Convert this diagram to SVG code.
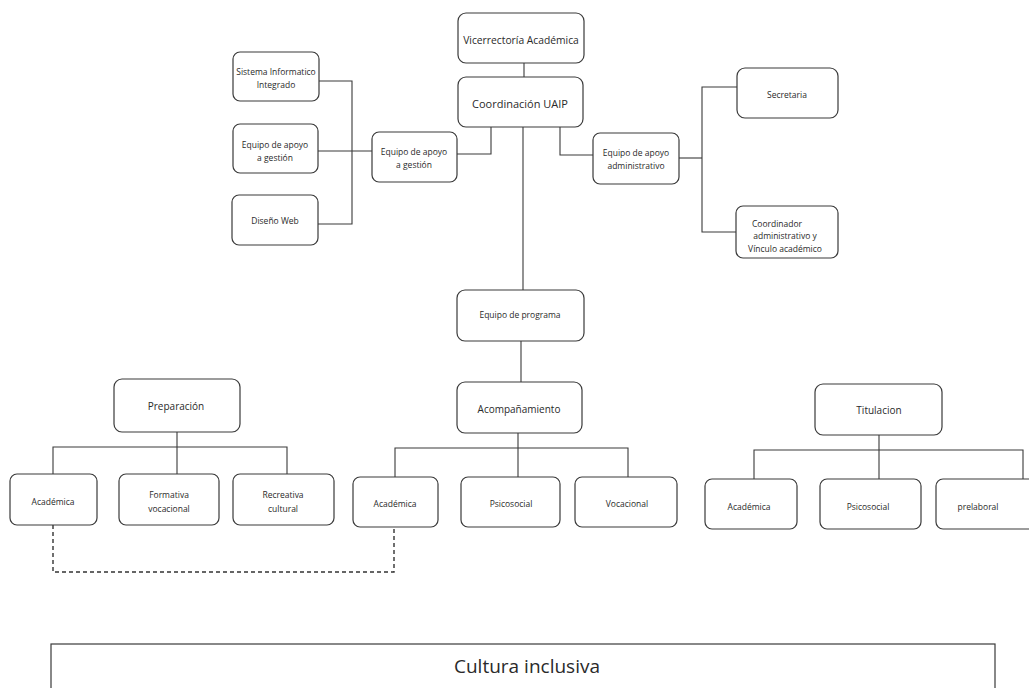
<svg xmlns="http://www.w3.org/2000/svg" width="1029" height="688" viewBox="0 0 1029 688">
<style>
.b{fill:#fff;stroke:#3a3a3a;stroke-width:1.2}
.t{font-family:"Open Sans","Noto Sans",sans-serif;fill:#2a2a2a;text-anchor:middle;dominant-baseline:central}
.s{font-size:8.5px}
.m{font-size:10px}
.l{font-size:11px}
.c{fill:none;stroke:#3a3a3a;stroke-width:1.1}
.d{fill:none;stroke:#333;stroke-width:1.4;stroke-dasharray:4 3}
</style>
<rect width="1029" height="688" fill="#fff"/>
<g id="connectors">
<path class="c" d="M524 63V77"/>
<path class="c" d="M491 127V154H457"/>
<path class="c" d="M560 127V155H593"/>
<path class="c" d="M523 127V290"/>
<path class="c" d="M319 81H352V224H318"/>
<path class="c" d="M318 151H372"/>
<path class="c" d="M679 158H702"/>
<path class="c" d="M737 87H702V232H736"/>
<path class="c" d="M521 341V382"/>
<path class="c" d="M518 433V448M395 477V448H628V477M518 448V477"/>
<path class="c" d="M177 432V447M53 474V447H287V474M177 447V474"/>
<path class="c" d="M879 435V450M754 479V450H1023V479M879 450V479"/>
<path class="d" d="M53 525V572H394V527"/>
</g>
<g id="vicerrectoria"><rect class="b" x="458" y="13" width="126" height="50" rx="8"/><text class="t" x="521" y="40" style="font-size:10.3px">Vicerrectoría Académica</text></g>
<g id="coordinacion"><rect class="b" x="458" y="77" width="125" height="50" rx="8"/><text class="t l" x="520" y="103">Coordinación UAIP</text></g>
<g id="sistema"><rect class="b" x="233" y="52" width="86" height="49" rx="7"/><text class="t s" x="276" y="71">Sistema Informatico</text><text class="t s" x="276" y="84">Integrado</text></g>
<g id="apoyo-gestion-izq"><rect class="b" x="233" y="124" width="85" height="49" rx="7"/><text class="t s" x="275" y="144">Equipo de apoyo</text><text class="t s" x="275" y="157">a gestión</text></g>
<g id="diseno-web"><rect class="b" x="232" y="195" width="86" height="50" rx="7"/><text class="t s" x="275" y="220">Diseño Web</text></g>
<g id="apoyo-gestion"><rect class="b" x="372" y="132" width="85" height="50" rx="7"/><text class="t s" x="414" y="151">Equipo de apoyo</text><text class="t s" x="414" y="164">a gestión</text></g>
<g id="apoyo-administrativo"><rect class="b" x="593" y="133" width="86" height="51" rx="7"/><text class="t s" x="636" y="152">Equipo de apoyo</text><text class="t s" x="636" y="165">administrativo</text></g>
<g id="secretaria"><rect class="b" x="737" y="68" width="101" height="50" rx="8"/><text class="t s" x="787" y="94">Secretaria</text></g>
<g id="coordinador"><rect class="b" x="736" y="206" width="102" height="52" rx="7"/><text class="t s" x="777" y="223">Coordinador</text><text class="t s" x="785" y="235">administrativo y</text><text class="t s" x="785" y="248">Vínculo académico</text></g>
<g id="programa"><rect class="b" x="457" y="290" width="127" height="51" rx="8"/><text class="t s" x="520" y="314">Equipo de programa</text></g>
<g id="acompanamiento"><rect class="b" x="457" y="382" width="125" height="51" rx="8"/><text class="t m" x="519" y="409">Acompañamiento</text></g>
<g id="preparacion"><rect class="b" x="114" y="379" width="126" height="53" rx="8"/><text class="t m" x="176" y="406">Preparación</text></g>
<g id="titulacion"><rect class="b" x="815" y="384" width="127" height="51" rx="8"/><text class="t m" x="879" y="410">Titulacion</text></g>
<g id="prep-academica"><rect class="b" x="10" y="474" width="87" height="51" rx="7"/><text class="t s" x="53" y="501">Académica</text></g>
<g id="prep-formativa"><rect class="b" x="119" y="474" width="100" height="51" rx="7"/><text class="t s" x="169" y="494">Formativa</text><text class="t s" x="169" y="508">vocacional</text></g>
<g id="prep-recreativa"><rect class="b" x="233" y="474" width="101" height="51" rx="7"/><text class="t s" x="283" y="494">Recreativa</text><text class="t s" x="283" y="508">cultural</text></g>
<g id="acomp-academica"><rect class="b" x="353" y="477" width="85" height="50" rx="7"/><text class="t s" x="395" y="503">Académica</text></g>
<g id="acomp-psicosocial"><rect class="b" x="461" y="477" width="99" height="50" rx="7"/><text class="t s" x="511" y="503">Psicosocial</text></g>
<g id="acomp-vocacional"><rect class="b" x="575" y="477" width="102" height="50" rx="7"/><text class="t s" x="627" y="503">Vocacional</text></g>
<g id="tit-academica"><rect class="b" x="705" y="479" width="92" height="50" rx="7"/><text class="t s" x="749" y="506">Académica</text></g>
<g id="tit-psicosocial"><rect class="b" x="820" y="479" width="101" height="50" rx="7"/><text class="t s" x="868" y="506">Psicosocial</text></g>
<g id="tit-prelaboral"><rect class="b" x="936" y="479" width="104" height="50" rx="7"/><text class="t s" x="978" y="506">prelaboral</text></g>
<g id="cultura-inclusiva"><rect class="b" x="51" y="644" width="944" height="50"/><text class="t" x="527" y="666" style="font-size:19px">Cultura inclusiva</text></g>
</svg>
